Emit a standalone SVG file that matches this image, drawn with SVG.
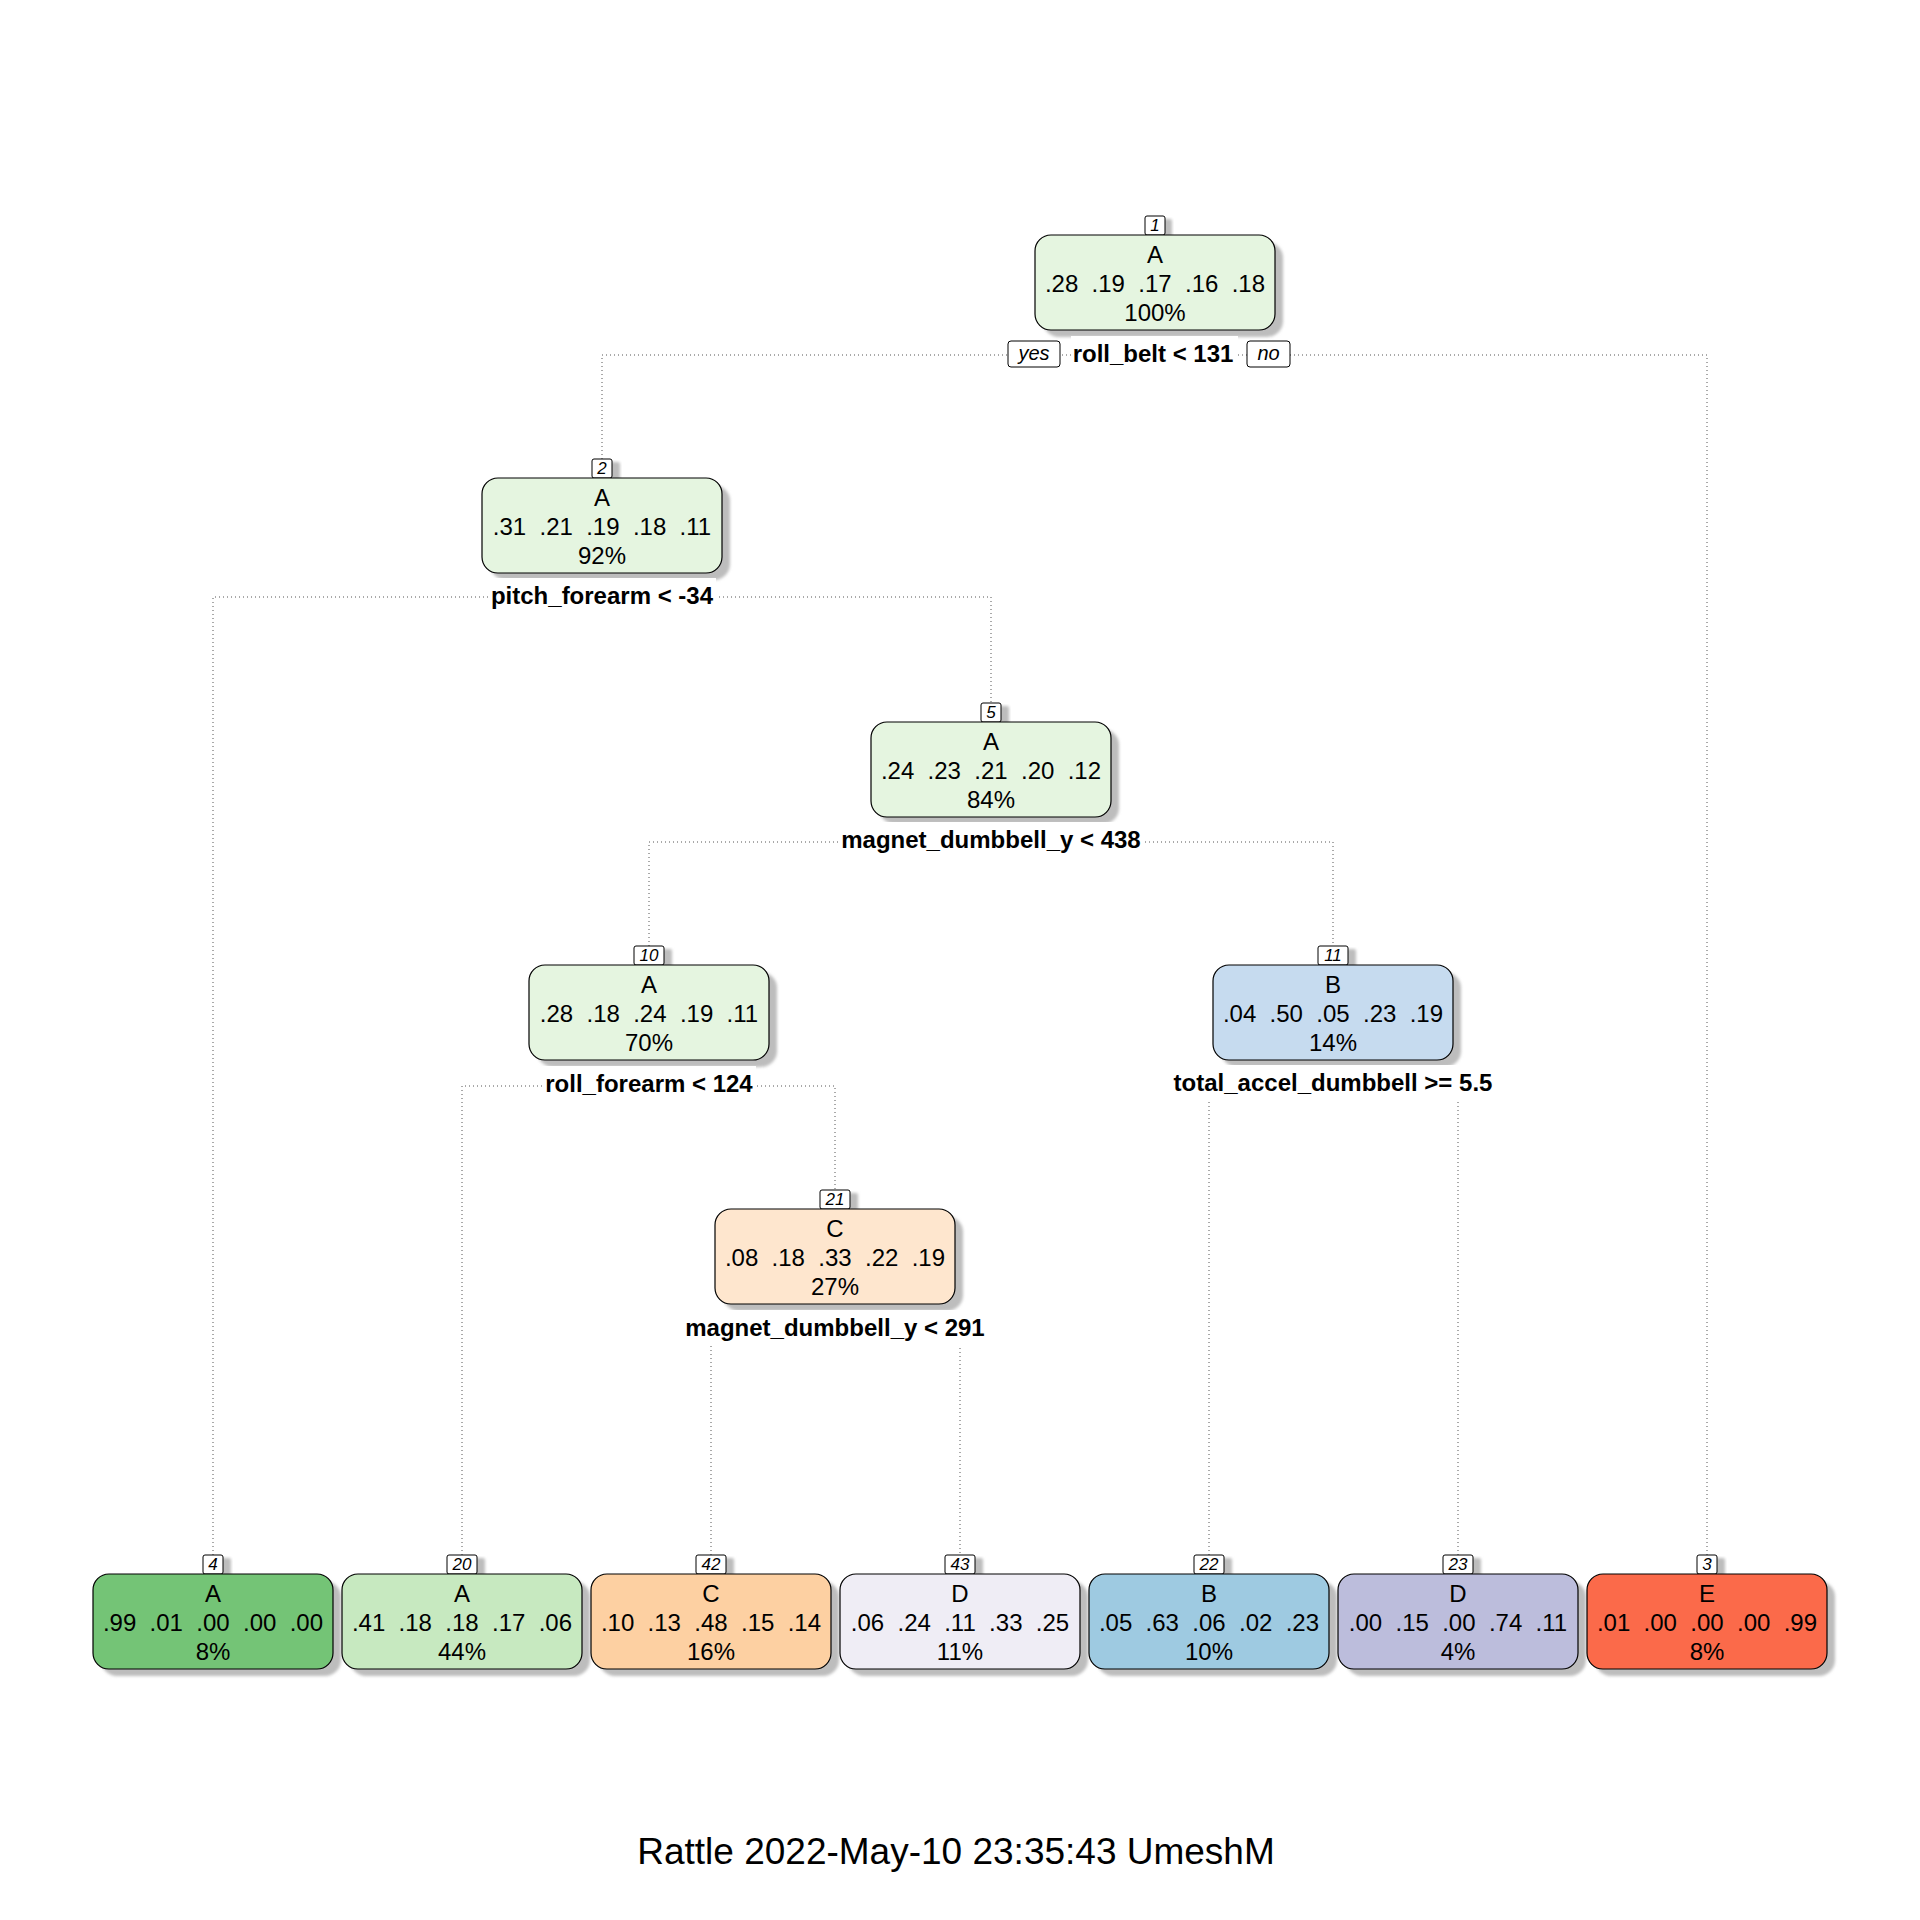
<svg xmlns="http://www.w3.org/2000/svg" width="1920" height="1920" viewBox="0 0 1920 1920">
<defs>
<filter id="blur" x="-10%" y="-10%" width="120%" height="130%"><feGaussianBlur stdDeviation="1.8"/></filter>
<style>
.box{stroke:#000;stroke-width:1.2}
.sh{fill:#bdbdbd;filter:url(#blur)}
.lb{fill:#fff;stroke:#000;stroke-width:1}
.t{font-family:"Liberation Sans",Arial,sans-serif;font-size:24px;fill:#000;text-anchor:middle;white-space:pre}
.num{font-family:"Liberation Sans",Arial,sans-serif;font-size:17px;font-style:italic;fill:#000;text-anchor:middle}
.sp{font-family:"Liberation Sans",Arial,sans-serif;font-size:24px;font-weight:bold;fill:#000;text-anchor:middle}
.yn{font-family:"Liberation Sans",Arial,sans-serif;font-size:20px;font-style:italic;fill:#000;text-anchor:middle}
.bg{fill:#fff}
.con{fill:none;stroke:#555;stroke-width:1;stroke-dasharray:1 3}
.title{font-family:"Liberation Sans",Arial,sans-serif;font-size:37px;fill:#000;text-anchor:middle}
</style>
</defs>
<rect width="1920" height="1920" fill="#fff"/>

<g id="connectors">
<path class="con" d="M602,459 V355 H1707 V1555"/>
<path class="con" d="M213,1555 V597 H991 V703"/>
<path class="con" d="M649,946 V842 H1333 V946"/>
<path class="con" d="M462,1555 V1086 H835 V1190"/>
<path class="con" d="M1209,1555 V1085 H1458 V1555"/>
<path class="con" d="M711,1555 V1330 H960 V1555"/>
</g>

<g id="node1">
<rect class="sh" x="1043" y="242" width="240" height="95" rx="16"/>
<rect class="sh" x="1152" y="219" width="20" height="19" rx="2"/>
<rect class="lb" x="1145" y="216" width="20" height="19" rx="2"/>
<text class="num" x="1155" y="231">1</text>
<rect class="box" x="1035" y="235" width="240" height="95" rx="16" fill="#e5f5e0"/>
<text class="t" x="1155" y="263">A</text>
<text class="t" x="1155" y="292" xml:space="preserve">.28  .19  .17  .16  .18</text>
<text class="t" x="1155" y="321">100%</text>
<rect class="bg" x="1071" y="336" width="167" height="34"/>
<text class="sp" x="1153" y="362">roll_belt &lt; 131</text>
<rect class="lb" x="1008" y="341" width="52" height="26" rx="3"/>
<text class="yn" x="1034" y="360">yes</text>
<rect class="lb" x="1247" y="341" width="43" height="26" rx="3"/>
<text class="yn" x="1268.5" y="360">no</text>
</g>

<g id="node2">
<rect class="sh" x="490" y="485" width="240" height="95" rx="16"/>
<rect class="sh" x="600" y="462" width="20" height="19" rx="2"/>
<rect class="lb" x="592" y="459" width="20" height="19" rx="2"/>
<text class="num" x="602" y="474">2</text>
<rect class="box" x="482" y="478" width="240" height="95" rx="16" fill="#e5f5e0"/>
<text class="t" x="602" y="506">A</text>
<text class="t" x="602" y="535" xml:space="preserve">.31  .21  .19  .18  .11</text>
<text class="t" x="602" y="564">92%</text>
<rect class="bg" x="488" y="578" width="228" height="35"/>
<text class="sp" x="602" y="604">pitch_forearm &lt; -34</text>
</g>

<g id="node5">
<rect class="sh" x="879" y="729" width="240" height="95" rx="16"/>
<rect class="sh" x="989" y="706" width="20" height="19" rx="2"/>
<rect class="lb" x="981" y="703" width="20" height="19" rx="2"/>
<text class="num" x="991" y="718">5</text>
<rect class="box" x="871" y="722" width="240" height="95" rx="16" fill="#e5f5e0"/>
<text class="t" x="991" y="750">A</text>
<text class="t" x="991" y="779" xml:space="preserve">.24  .23  .21  .20  .12</text>
<text class="t" x="991" y="808">84%</text>
<rect class="bg" x="838" y="822" width="306" height="35"/>
<text class="sp" x="991" y="848">magnet_dumbbell_y &lt; 438</text>
</g>

<g id="node10">
<rect class="sh" x="537" y="972" width="240" height="95" rx="16"/>
<rect class="sh" x="642" y="949" width="30" height="19" rx="2"/>
<rect class="lb" x="634" y="946" width="30" height="19" rx="2"/>
<text class="num" x="649" y="961">10</text>
<rect class="box" x="529" y="965" width="240" height="95" rx="16" fill="#e5f5e0"/>
<text class="t" x="649" y="993">A</text>
<text class="t" x="649" y="1022" xml:space="preserve">.28  .18  .24  .19  .11</text>
<text class="t" x="649" y="1051">70%</text>
<rect class="bg" x="542" y="1066" width="214" height="35"/>
<text class="sp" x="649" y="1092">roll_forearm &lt; 124</text>
</g>

<g id="node11">
<rect class="sh" x="1221" y="972" width="240" height="95" rx="16"/>
<rect class="sh" x="1326" y="949" width="30" height="19" rx="2"/>
<rect class="lb" x="1318" y="946" width="30" height="19" rx="2"/>
<text class="num" x="1333" y="961">11</text>
<rect class="box" x="1213" y="965" width="240" height="95" rx="16" fill="#c6dbef"/>
<text class="t" x="1333" y="993">B</text>
<text class="t" x="1333" y="1022" xml:space="preserve">.04  .50  .05  .23  .19</text>
<text class="t" x="1333" y="1051">14%</text>
<rect class="bg" x="1170" y="1065" width="326" height="35"/>
<text class="sp" x="1333" y="1091">total_accel_dumbbell &gt;= 5.5</text>
</g>

<g id="node21">
<rect class="sh" x="723" y="1216" width="240" height="95" rx="16"/>
<rect class="sh" x="828" y="1193" width="30" height="19" rx="2"/>
<rect class="lb" x="820" y="1190" width="30" height="19" rx="2"/>
<text class="num" x="835" y="1205">21</text>
<rect class="box" x="715" y="1209" width="240" height="95" rx="16" fill="#fee6ce"/>
<text class="t" x="835" y="1237">C</text>
<text class="t" x="835" y="1266" xml:space="preserve">.08  .18  .33  .22  .19</text>
<text class="t" x="835" y="1295">27%</text>
<rect class="bg" x="682" y="1310" width="306" height="35"/>
<text class="sp" x="835" y="1336">magnet_dumbbell_y &lt; 291</text>
</g>

<g id="node4">
<rect class="sh" x="101" y="1581" width="240" height="95" rx="16"/>
<rect class="sh" x="211" y="1558" width="20" height="19" rx="2"/>
<rect class="lb" x="203" y="1555" width="20" height="19" rx="2"/>
<text class="num" x="213" y="1570">4</text>
<rect class="box" x="93" y="1574" width="240" height="95" rx="16" fill="#74c476"/>
<text class="t" x="213" y="1602">A</text>
<text class="t" x="213" y="1631" xml:space="preserve">.99  .01  .00  .00  .00</text>
<text class="t" x="213" y="1660">8%</text>
</g>

<g id="node20">
<rect class="sh" x="350" y="1581" width="240" height="95" rx="16"/>
<rect class="sh" x="455" y="1558" width="30" height="19" rx="2"/>
<rect class="lb" x="447" y="1555" width="30" height="19" rx="2"/>
<text class="num" x="462" y="1570">20</text>
<rect class="box" x="342" y="1574" width="240" height="95" rx="16" fill="#c7e9c0"/>
<text class="t" x="462" y="1602">A</text>
<text class="t" x="462" y="1631" xml:space="preserve">.41  .18  .18  .17  .06</text>
<text class="t" x="462" y="1660">44%</text>
</g>

<g id="node42">
<rect class="sh" x="599" y="1581" width="240" height="95" rx="16"/>
<rect class="sh" x="704" y="1558" width="30" height="19" rx="2"/>
<rect class="lb" x="696" y="1555" width="30" height="19" rx="2"/>
<text class="num" x="711" y="1570">42</text>
<rect class="box" x="591" y="1574" width="240" height="95" rx="16" fill="#fdd0a2"/>
<text class="t" x="711" y="1602">C</text>
<text class="t" x="711" y="1631" xml:space="preserve">.10  .13  .48  .15  .14</text>
<text class="t" x="711" y="1660">16%</text>
</g>

<g id="node43">
<rect class="sh" x="848" y="1581" width="240" height="95" rx="16"/>
<rect class="sh" x="953" y="1558" width="30" height="19" rx="2"/>
<rect class="lb" x="945" y="1555" width="30" height="19" rx="2"/>
<text class="num" x="960" y="1570">43</text>
<rect class="box" x="840" y="1574" width="240" height="95" rx="16" fill="#efedf5"/>
<text class="t" x="960" y="1602">D</text>
<text class="t" x="960" y="1631" xml:space="preserve">.06  .24  .11  .33  .25</text>
<text class="t" x="960" y="1660">11%</text>
</g>

<g id="node22">
<rect class="sh" x="1097" y="1581" width="240" height="95" rx="16"/>
<rect class="sh" x="1202" y="1558" width="30" height="19" rx="2"/>
<rect class="lb" x="1194" y="1555" width="30" height="19" rx="2"/>
<text class="num" x="1209" y="1570">22</text>
<rect class="box" x="1089" y="1574" width="240" height="95" rx="16" fill="#9ecae1"/>
<text class="t" x="1209" y="1602">B</text>
<text class="t" x="1209" y="1631" xml:space="preserve">.05  .63  .06  .02  .23</text>
<text class="t" x="1209" y="1660">10%</text>
</g>

<g id="node23">
<rect class="sh" x="1346" y="1581" width="240" height="95" rx="16"/>
<rect class="sh" x="1451" y="1558" width="30" height="19" rx="2"/>
<rect class="lb" x="1443" y="1555" width="30" height="19" rx="2"/>
<text class="num" x="1458" y="1570">23</text>
<rect class="box" x="1338" y="1574" width="240" height="95" rx="16" fill="#bcbddc"/>
<text class="t" x="1458" y="1602">D</text>
<text class="t" x="1458" y="1631" xml:space="preserve">.00  .15  .00  .74  .11</text>
<text class="t" x="1458" y="1660">4%</text>
</g>

<g id="node3">
<rect class="sh" x="1595" y="1581" width="240" height="95" rx="16"/>
<rect class="sh" x="1705" y="1558" width="20" height="19" rx="2"/>
<rect class="lb" x="1697" y="1555" width="20" height="19" rx="2"/>
<text class="num" x="1707" y="1570">3</text>
<rect class="box" x="1587" y="1574" width="240" height="95" rx="16" fill="#fb6a4a"/>
<text class="t" x="1707" y="1602">E</text>
<text class="t" x="1707" y="1631" xml:space="preserve">.01  .00  .00  .00  .99</text>
<text class="t" x="1707" y="1660">8%</text>
</g>

<text class="title" x="956" y="1864">Rattle 2022-May-10 23:35:43 UmeshM</text>
</svg>
